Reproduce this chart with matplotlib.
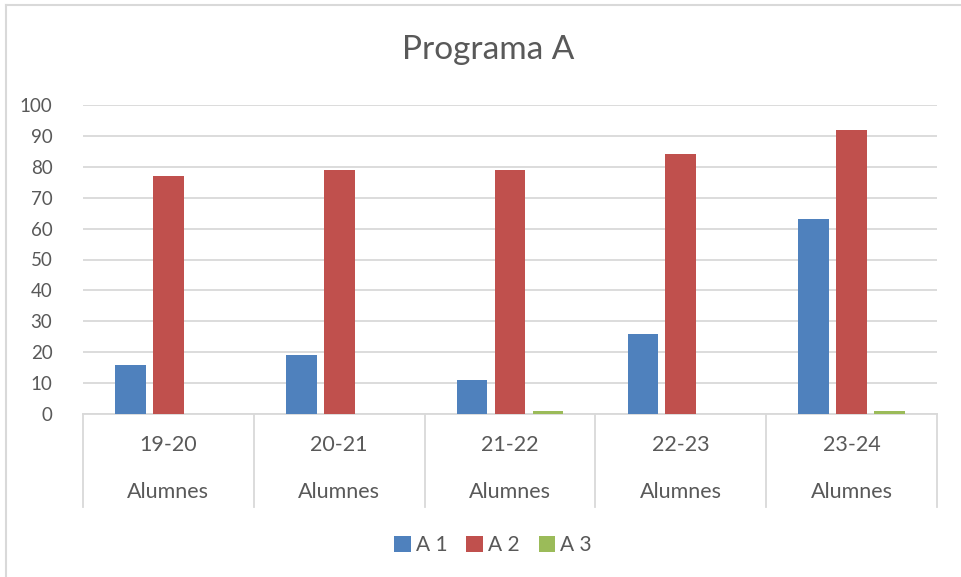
import matplotlib.pyplot as plt
from matplotlib.lines import Line2D
import numpy as np

plt.rcParams['font.family'] = ['Lato', 'DejaVu Sans']

# dades
cursos = ['19-20', '20-21', '21-22', '22-23', '23-24']
grup = 'Alumnes'
series = ['A 1', 'A 2', 'A 3']
a1 = [16, 19, 11, 26, 63]
a2 = [77, 79, 79, 84, 92]
a3 = [0, 0, 1, 0, 1]
colors = ['#4F81BD', '#C0504D', '#9BBB59']

W, H = 961, 577
fig = plt.figure(figsize=(W / 100, H / 100), dpi=100)
ax = fig.add_axes([83 / W, 163 / H, (937 - 83) / W, (414 - 105) / H])

x = np.arange(len(cursos))
bw = 0.18
step = 0.222
for i, (vals, lab, c) in enumerate(zip([a1, a2, a3], series, colors)):
    ax.bar(x + (i - 1) * step, vals, width=bw, color=c, label=lab, zorder=3)

ax.set_xlim(-0.5, len(cursos) - 0.5)
ax.set_ylim(0, 100)
ax.set_yticks(range(0, 101, 10))
ax.yaxis.grid(True, color='#D9D9D9', linewidth=1.3, zorder=0)
ax.tick_params(axis='y', length=0, labelsize=13.5, labelcolor='#595959', pad=22)
ax.set_xticks([])
for s in ['top', 'right', 'left']:
    ax.spines[s].set_visible(False)
ax.spines['bottom'].set_color('#D9D9D9')
ax.spines['bottom'].set_linewidth(1.3)

# etiquetes de categoria en dos nivells
tr = ax.get_xaxis_transform()
for b in np.arange(-0.5, len(cursos), 1):
    ax.add_line(Line2D([b, b], [0, -93 / 309], transform=tr, color='#D9D9D9',
                       linewidth=1.3, clip_on=False))
for xi, c in zip(x, cursos):
    ax.text(xi, -31 / 309, c, transform=tr, ha='center', va='center',
            fontsize=15.5, color='#595959')
    ax.text(xi, -78 / 309, grup, transform=tr, ha='center', va='center',
            fontsize=15.5, color='#595959')

fig.text(488 / W, 1 - 50 / H, 'Programa A', ha='center', va='center',
         fontsize=24, color='#595959')

leg = fig.legend(loc='center', bbox_to_anchor=(493 / W, 1 - 545 / H), ncol=3,
                 frameon=False, fontsize=15, handlelength=0.8, handleheight=0.8,
                 handletextpad=0.25, columnspacing=0.9)
for t in leg.get_texts():
    t.set_color('#595959')

# vora del gràfic
fig.add_artist(Line2D([6 / W, 1], [1 - 5 / H, 1 - 5 / H], color='#D9D9D9', linewidth=1.5))
fig.add_artist(Line2D([6 / W, 6 / W], [0, 1 - 5 / H], color='#D9D9D9', linewidth=1.5))

fig.savefig('out.png', dpi=100)
